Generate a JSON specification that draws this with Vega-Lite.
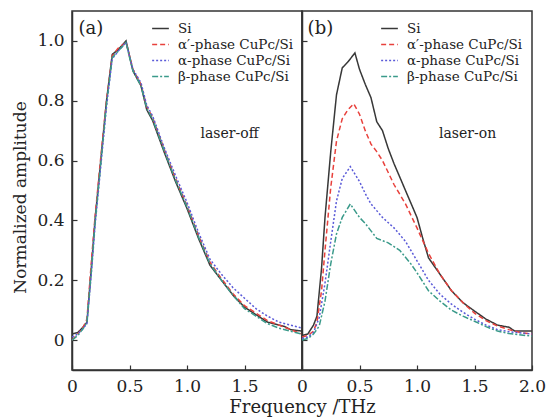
{
  "$schema": "https://vega.github.io/schema/vega-lite/v6.json",
  "background": "white",
  "padding": {"left": 11, "top": 10, "right": 5, "bottom": 5},
  "spacing": 0,
  "bounds": "flush",
  "datasets": {
    "curves": [
      {"p":"a","s":"Si","x":0,"y":0.02},{"p":"a","s":"Si","x":0.05,"y":0.025},{"p":"a","s":"Si","x":0.1,"y":0.045},{"p":"a","s":"Si","x":0.13,"y":0.06},{"p":"a","s":"Si","x":0.17,"y":0.25},{"p":"a","s":"Si","x":0.2,"y":0.4},{"p":"a","s":"Si","x":0.25,"y":0.6},{"p":"a","s":"Si","x":0.3,"y":0.8},{"p":"a","s":"Si","x":0.35,"y":0.955},{"p":"a","s":"Si","x":0.4,"y":0.97},{"p":"a","s":"Si","x":0.47,"y":1.0},{"p":"a","s":"Si","x":0.5,"y":0.95},{"p":"a","s":"Si","x":0.53,"y":0.9},{"p":"a","s":"Si","x":0.6,"y":0.85},{"p":"a","s":"Si","x":0.65,"y":0.77},{"p":"a","s":"Si","x":0.7,"y":0.735},{"p":"a","s":"Si","x":0.8,"y":0.63},{"p":"a","s":"Si","x":0.9,"y":0.53},{"p":"a","s":"Si","x":1.0,"y":0.44},{"p":"a","s":"Si","x":1.1,"y":0.34},{"p":"a","s":"Si","x":1.2,"y":0.25},{"p":"a","s":"Si","x":1.3,"y":0.2},{"p":"a","s":"Si","x":1.4,"y":0.15},{"p":"a","s":"Si","x":1.5,"y":0.11},{"p":"a","s":"Si","x":1.6,"y":0.085},{"p":"a","s":"Si","x":1.7,"y":0.06},{"p":"a","s":"Si","x":1.8,"y":0.05},{"p":"a","s":"Si","x":1.85,"y":0.045},{"p":"a","s":"Si","x":1.9,"y":0.035},{"p":"a","s":"Si","x":2.0,"y":0.03},
      {"p":"a","s":"α′-phase CuPc/Si","x":0,"y":0.0},{"p":"a","s":"α′-phase CuPc/Si","x":0.05,"y":0.02},{"p":"a","s":"α′-phase CuPc/Si","x":0.1,"y":0.045},{"p":"a","s":"α′-phase CuPc/Si","x":0.13,"y":0.07},{"p":"a","s":"α′-phase CuPc/Si","x":0.17,"y":0.27},{"p":"a","s":"α′-phase CuPc/Si","x":0.2,"y":0.41},{"p":"a","s":"α′-phase CuPc/Si","x":0.25,"y":0.61},{"p":"a","s":"α′-phase CuPc/Si","x":0.3,"y":0.8},{"p":"a","s":"α′-phase CuPc/Si","x":0.35,"y":0.95},{"p":"a","s":"α′-phase CuPc/Si","x":0.4,"y":0.975},{"p":"a","s":"α′-phase CuPc/Si","x":0.47,"y":0.995},{"p":"a","s":"α′-phase CuPc/Si","x":0.5,"y":0.95},{"p":"a","s":"α′-phase CuPc/Si","x":0.53,"y":0.905},{"p":"a","s":"α′-phase CuPc/Si","x":0.6,"y":0.855},{"p":"a","s":"α′-phase CuPc/Si","x":0.65,"y":0.78},{"p":"a","s":"α′-phase CuPc/Si","x":0.7,"y":0.745},{"p":"a","s":"α′-phase CuPc/Si","x":0.8,"y":0.64},{"p":"a","s":"α′-phase CuPc/Si","x":0.9,"y":0.54},{"p":"a","s":"α′-phase CuPc/Si","x":1.0,"y":0.45},{"p":"a","s":"α′-phase CuPc/Si","x":1.1,"y":0.35},{"p":"a","s":"α′-phase CuPc/Si","x":1.2,"y":0.26},{"p":"a","s":"α′-phase CuPc/Si","x":1.3,"y":0.205},{"p":"a","s":"α′-phase CuPc/Si","x":1.4,"y":0.155},{"p":"a","s":"α′-phase CuPc/Si","x":1.5,"y":0.115},{"p":"a","s":"α′-phase CuPc/Si","x":1.6,"y":0.09},{"p":"a","s":"α′-phase CuPc/Si","x":1.7,"y":0.065},{"p":"a","s":"α′-phase CuPc/Si","x":1.8,"y":0.05},{"p":"a","s":"α′-phase CuPc/Si","x":1.9,"y":0.035},{"p":"a","s":"α′-phase CuPc/Si","x":2.0,"y":0.02},
      {"p":"a","s":"α-phase CuPc/Si","x":0,"y":0.01},{"p":"a","s":"α-phase CuPc/Si","x":0.05,"y":0.02},{"p":"a","s":"α-phase CuPc/Si","x":0.1,"y":0.04},{"p":"a","s":"α-phase CuPc/Si","x":0.13,"y":0.055},{"p":"a","s":"α-phase CuPc/Si","x":0.17,"y":0.23},{"p":"a","s":"α-phase CuPc/Si","x":0.2,"y":0.38},{"p":"a","s":"α-phase CuPc/Si","x":0.25,"y":0.58},{"p":"a","s":"α-phase CuPc/Si","x":0.3,"y":0.78},{"p":"a","s":"α-phase CuPc/Si","x":0.35,"y":0.94},{"p":"a","s":"α-phase CuPc/Si","x":0.4,"y":0.965},{"p":"a","s":"α-phase CuPc/Si","x":0.47,"y":0.995},{"p":"a","s":"α-phase CuPc/Si","x":0.5,"y":0.95},{"p":"a","s":"α-phase CuPc/Si","x":0.53,"y":0.905},{"p":"a","s":"α-phase CuPc/Si","x":0.6,"y":0.86},{"p":"a","s":"α-phase CuPc/Si","x":0.65,"y":0.785},{"p":"a","s":"α-phase CuPc/Si","x":0.7,"y":0.75},{"p":"a","s":"α-phase CuPc/Si","x":0.8,"y":0.645},{"p":"a","s":"α-phase CuPc/Si","x":0.9,"y":0.55},{"p":"a","s":"α-phase CuPc/Si","x":1.0,"y":0.46},{"p":"a","s":"α-phase CuPc/Si","x":1.1,"y":0.36},{"p":"a","s":"α-phase CuPc/Si","x":1.2,"y":0.27},{"p":"a","s":"α-phase CuPc/Si","x":1.3,"y":0.22},{"p":"a","s":"α-phase CuPc/Si","x":1.4,"y":0.175},{"p":"a","s":"α-phase CuPc/Si","x":1.5,"y":0.14},{"p":"a","s":"α-phase CuPc/Si","x":1.6,"y":0.105},{"p":"a","s":"α-phase CuPc/Si","x":1.7,"y":0.08},{"p":"a","s":"α-phase CuPc/Si","x":1.8,"y":0.06},{"p":"a","s":"α-phase CuPc/Si","x":1.9,"y":0.05},{"p":"a","s":"α-phase CuPc/Si","x":2.0,"y":0.04},
      {"p":"a","s":"β-phase CuPc/Si","x":0,"y":0.0},{"p":"a","s":"β-phase CuPc/Si","x":0.05,"y":0.015},{"p":"a","s":"β-phase CuPc/Si","x":0.1,"y":0.04},{"p":"a","s":"β-phase CuPc/Si","x":0.13,"y":0.06},{"p":"a","s":"β-phase CuPc/Si","x":0.17,"y":0.24},{"p":"a","s":"β-phase CuPc/Si","x":0.2,"y":0.39},{"p":"a","s":"β-phase CuPc/Si","x":0.25,"y":0.59},{"p":"a","s":"β-phase CuPc/Si","x":0.3,"y":0.79},{"p":"a","s":"β-phase CuPc/Si","x":0.35,"y":0.945},{"p":"a","s":"β-phase CuPc/Si","x":0.4,"y":0.965},{"p":"a","s":"β-phase CuPc/Si","x":0.47,"y":0.995},{"p":"a","s":"β-phase CuPc/Si","x":0.5,"y":0.945},{"p":"a","s":"β-phase CuPc/Si","x":0.53,"y":0.9},{"p":"a","s":"β-phase CuPc/Si","x":0.6,"y":0.85},{"p":"a","s":"β-phase CuPc/Si","x":0.65,"y":0.775},{"p":"a","s":"β-phase CuPc/Si","x":0.7,"y":0.74},{"p":"a","s":"β-phase CuPc/Si","x":0.8,"y":0.635},{"p":"a","s":"β-phase CuPc/Si","x":0.9,"y":0.535},{"p":"a","s":"β-phase CuPc/Si","x":1.0,"y":0.445},{"p":"a","s":"β-phase CuPc/Si","x":1.1,"y":0.345},{"p":"a","s":"β-phase CuPc/Si","x":1.2,"y":0.255},{"p":"a","s":"β-phase CuPc/Si","x":1.3,"y":0.2},{"p":"a","s":"β-phase CuPc/Si","x":1.4,"y":0.15},{"p":"a","s":"β-phase CuPc/Si","x":1.5,"y":0.105},{"p":"a","s":"β-phase CuPc/Si","x":1.6,"y":0.08},{"p":"a","s":"β-phase CuPc/Si","x":1.7,"y":0.055},{"p":"a","s":"β-phase CuPc/Si","x":1.8,"y":0.04},{"p":"a","s":"β-phase CuPc/Si","x":1.9,"y":0.03},{"p":"a","s":"β-phase CuPc/Si","x":2.0,"y":0.02},
      {"p":"b","s":"Si","x":0,"y":0.015},{"p":"b","s":"Si","x":0.05,"y":0.02},{"p":"b","s":"Si","x":0.1,"y":0.05},{"p":"b","s":"Si","x":0.13,"y":0.08},{"p":"b","s":"Si","x":0.17,"y":0.24},{"p":"b","s":"Si","x":0.2,"y":0.41},{"p":"b","s":"Si","x":0.25,"y":0.63},{"p":"b","s":"Si","x":0.3,"y":0.82},{"p":"b","s":"Si","x":0.35,"y":0.91},{"p":"b","s":"Si","x":0.4,"y":0.93},{"p":"b","s":"Si","x":0.46,"y":0.96},{"p":"b","s":"Si","x":0.5,"y":0.905},{"p":"b","s":"Si","x":0.55,"y":0.855},{"p":"b","s":"Si","x":0.6,"y":0.81},{"p":"b","s":"Si","x":0.65,"y":0.73},{"p":"b","s":"Si","x":0.7,"y":0.7},{"p":"b","s":"Si","x":0.75,"y":0.64},{"p":"b","s":"Si","x":0.8,"y":0.59},{"p":"b","s":"Si","x":0.9,"y":0.5},{"p":"b","s":"Si","x":1.0,"y":0.41},{"p":"b","s":"Si","x":1.05,"y":0.34},{"p":"b","s":"Si","x":1.1,"y":0.275},{"p":"b","s":"Si","x":1.2,"y":0.22},{"p":"b","s":"Si","x":1.3,"y":0.165},{"p":"b","s":"Si","x":1.4,"y":0.125},{"p":"b","s":"Si","x":1.5,"y":0.097},{"p":"b","s":"Si","x":1.6,"y":0.07},{"p":"b","s":"Si","x":1.7,"y":0.05},{"p":"b","s":"Si","x":1.8,"y":0.043},{"p":"b","s":"Si","x":1.85,"y":0.03},{"p":"b","s":"Si","x":2.0,"y":0.03},
      {"p":"b","s":"α′-phase CuPc/Si","x":0,"y":0.01},{"p":"b","s":"α′-phase CuPc/Si","x":0.05,"y":0.015},{"p":"b","s":"α′-phase CuPc/Si","x":0.1,"y":0.03},{"p":"b","s":"α′-phase CuPc/Si","x":0.13,"y":0.06},{"p":"b","s":"α′-phase CuPc/Si","x":0.17,"y":0.165},{"p":"b","s":"α′-phase CuPc/Si","x":0.2,"y":0.3},{"p":"b","s":"α′-phase CuPc/Si","x":0.25,"y":0.51},{"p":"b","s":"α′-phase CuPc/Si","x":0.3,"y":0.665},{"p":"b","s":"α′-phase CuPc/Si","x":0.35,"y":0.74},{"p":"b","s":"α′-phase CuPc/Si","x":0.4,"y":0.77},{"p":"b","s":"α′-phase CuPc/Si","x":0.45,"y":0.79},{"p":"b","s":"α′-phase CuPc/Si","x":0.5,"y":0.755},{"p":"b","s":"α′-phase CuPc/Si","x":0.55,"y":0.7},{"p":"b","s":"α′-phase CuPc/Si","x":0.6,"y":0.655},{"p":"b","s":"α′-phase CuPc/Si","x":0.65,"y":0.63},{"p":"b","s":"α′-phase CuPc/Si","x":0.7,"y":0.6},{"p":"b","s":"α′-phase CuPc/Si","x":0.8,"y":0.52},{"p":"b","s":"α′-phase CuPc/Si","x":0.9,"y":0.455},{"p":"b","s":"α′-phase CuPc/Si","x":1.0,"y":0.375},{"p":"b","s":"α′-phase CuPc/Si","x":1.1,"y":0.29},{"p":"b","s":"α′-phase CuPc/Si","x":1.2,"y":0.22},{"p":"b","s":"α′-phase CuPc/Si","x":1.3,"y":0.165},{"p":"b","s":"α′-phase CuPc/Si","x":1.4,"y":0.125},{"p":"b","s":"α′-phase CuPc/Si","x":1.5,"y":0.09},{"p":"b","s":"α′-phase CuPc/Si","x":1.6,"y":0.065},{"p":"b","s":"α′-phase CuPc/Si","x":1.7,"y":0.047},{"p":"b","s":"α′-phase CuPc/Si","x":1.8,"y":0.035},{"p":"b","s":"α′-phase CuPc/Si","x":1.9,"y":0.025},{"p":"b","s":"α′-phase CuPc/Si","x":2.0,"y":0.02},
      {"p":"b","s":"α-phase CuPc/Si","x":0,"y":0.005},{"p":"b","s":"α-phase CuPc/Si","x":0.05,"y":0.01},{"p":"b","s":"α-phase CuPc/Si","x":0.1,"y":0.025},{"p":"b","s":"α-phase CuPc/Si","x":0.15,"y":0.075},{"p":"b","s":"α-phase CuPc/Si","x":0.2,"y":0.19},{"p":"b","s":"α-phase CuPc/Si","x":0.25,"y":0.33},{"p":"b","s":"α-phase CuPc/Si","x":0.3,"y":0.465},{"p":"b","s":"α-phase CuPc/Si","x":0.35,"y":0.54},{"p":"b","s":"α-phase CuPc/Si","x":0.42,"y":0.58},{"p":"b","s":"α-phase CuPc/Si","x":0.5,"y":0.53},{"p":"b","s":"α-phase CuPc/Si","x":0.55,"y":0.49},{"p":"b","s":"α-phase CuPc/Si","x":0.6,"y":0.455},{"p":"b","s":"α-phase CuPc/Si","x":0.7,"y":0.41},{"p":"b","s":"α-phase CuPc/Si","x":0.8,"y":0.375},{"p":"b","s":"α-phase CuPc/Si","x":0.9,"y":0.33},{"p":"b","s":"α-phase CuPc/Si","x":1.0,"y":0.265},{"p":"b","s":"α-phase CuPc/Si","x":1.1,"y":0.2},{"p":"b","s":"α-phase CuPc/Si","x":1.2,"y":0.153},{"p":"b","s":"α-phase CuPc/Si","x":1.3,"y":0.12},{"p":"b","s":"α-phase CuPc/Si","x":1.4,"y":0.093},{"p":"b","s":"α-phase CuPc/Si","x":1.5,"y":0.07},{"p":"b","s":"α-phase CuPc/Si","x":1.6,"y":0.05},{"p":"b","s":"α-phase CuPc/Si","x":1.7,"y":0.035},{"p":"b","s":"α-phase CuPc/Si","x":1.8,"y":0.028},{"p":"b","s":"α-phase CuPc/Si","x":2.0,"y":0.02},
      {"p":"b","s":"β-phase CuPc/Si","x":0,"y":0.0},{"p":"b","s":"β-phase CuPc/Si","x":0.05,"y":0.005},{"p":"b","s":"β-phase CuPc/Si","x":0.1,"y":0.02},{"p":"b","s":"β-phase CuPc/Si","x":0.15,"y":0.047},{"p":"b","s":"β-phase CuPc/Si","x":0.2,"y":0.13},{"p":"b","s":"β-phase CuPc/Si","x":0.25,"y":0.255},{"p":"b","s":"β-phase CuPc/Si","x":0.3,"y":0.355},{"p":"b","s":"β-phase CuPc/Si","x":0.35,"y":0.41},{"p":"b","s":"β-phase CuPc/Si","x":0.42,"y":0.455},{"p":"b","s":"β-phase CuPc/Si","x":0.5,"y":0.41},{"p":"b","s":"β-phase CuPc/Si","x":0.55,"y":0.39},{"p":"b","s":"β-phase CuPc/Si","x":0.6,"y":0.365},{"p":"b","s":"β-phase CuPc/Si","x":0.65,"y":0.34},{"p":"b","s":"β-phase CuPc/Si","x":0.75,"y":0.325},{"p":"b","s":"β-phase CuPc/Si","x":0.85,"y":0.3},{"p":"b","s":"β-phase CuPc/Si","x":0.95,"y":0.253},{"p":"b","s":"β-phase CuPc/Si","x":1.0,"y":0.225},{"p":"b","s":"β-phase CuPc/Si","x":1.1,"y":0.165},{"p":"b","s":"β-phase CuPc/Si","x":1.2,"y":0.13},{"p":"b","s":"β-phase CuPc/Si","x":1.3,"y":0.1},{"p":"b","s":"β-phase CuPc/Si","x":1.4,"y":0.08},{"p":"b","s":"β-phase CuPc/Si","x":1.5,"y":0.063},{"p":"b","s":"β-phase CuPc/Si","x":1.6,"y":0.045},{"p":"b","s":"β-phase CuPc/Si","x":1.7,"y":0.03},{"p":"b","s":"β-phase CuPc/Si","x":1.8,"y":0.022},{"p":"b","s":"β-phase CuPc/Si","x":2.0,"y":0.013}
    ],
    "labels": [
      {"p":"a","t":"(a)","x":0.165,"y":1.04,"k":"tag"},
      {"p":"a","t":"laser-off","x":1.37,"y":0.69,"k":"note"},
      {"p":"b","t":"(b)","x":0.16,"y":1.04,"k":"tag"},
      {"p":"b","t":"laser-on","x":1.44,"y":0.69,"k":"note"}
    ]
  },
  "hconcat": [
    {
      "width": 230,
      "height": 359,
      "layer": [
        {
          "data": {"name": "curves"},
          "transform": [{"filter": "datum.p == 'a'"}],
          "mark": {"type": "line", "strokeWidth": 1.5, "clip": true},
          "encoding": {
            "x": {"field": "x", "type": "quantitative", "scale": {"domain": [0, 2]},
                  "axis": {"values": [0, 0.5, 1, 1.5], "title": "Frequency /THz", "titleX": 230, "titleAlign": "center"}},
            "y": {"field": "y", "type": "quantitative", "scale": {"domain": [-0.1, 1.1]},
                  "axis": {"values": [0, 0.2, 0.4, 0.6, 0.8, 1.0], "title": "Normalized amplitude", "titleFontSize": 17, "titleY": 186}},
            "color": {"field": "s", "type": "nominal",
                      "scale": {"domain": ["Si", "α′-phase CuPc/Si", "α-phase CuPc/Si", "β-phase CuPc/Si"], "range": ["#383838", "#e8413c", "#5a5ad8", "#3a9a8a"]},
                      "legend": {"orient": "none", "legendX": 79, "legendY": 8, "title": null}},
            "strokeDash": {"field": "s", "type": "nominal",
                      "scale": {"domain": ["Si", "α′-phase CuPc/Si", "α-phase CuPc/Si", "β-phase CuPc/Si"], "range": [[1, 0], [5, 3], [2, 2], [6, 2, 2, 2]]},
                      "legend": {"orient": "none", "legendX": 79, "legendY": 8, "title": null}}
          }
        },
        {
          "data": {"name": "labels"},
          "transform": [{"filter": "datum.p == 'a'"}],
          "mark": {"type": "text", "font": "DejaVu Serif", "color": "#222", "align": "center", "baseline": "middle"},
          "encoding": {
            "x": {"field": "x", "type": "quantitative"},
            "y": {"field": "y", "type": "quantitative"},
            "text": {"field": "t"},
            "size": {"condition": {"test": "datum.k == 'tag'", "value": 18}, "value": 14}
          }
        }
      ]
    },
    {
      "width": 230,
      "height": 359,
      "layer": [
        {
          "data": {"name": "curves"},
          "transform": [{"filter": "datum.p == 'b'"}],
          "mark": {"type": "line", "strokeWidth": 1.5, "clip": true},
          "encoding": {
            "x": {"field": "x", "type": "quantitative", "scale": {"domain": [0, 2]},
                  "axis": {"values": [0, 0.5, 1, 1.5, 2], "title": null}},
            "y": {"field": "y", "type": "quantitative", "scale": {"domain": [-0.1, 1.1]},
                  "axis": {"values": [0, 0.2, 0.4, 0.6, 0.8, 1.0], "title": null, "labels": false}},
            "color": {"field": "s", "type": "nominal",
                      "scale": {"domain": ["Si", "α′-phase CuPc/Si", "α-phase CuPc/Si", "β-phase CuPc/Si"], "range": ["#383838", "#e8413c", "#5a5ad8", "#3a9a8a"]},
                      "legend": {"orient": "none", "legendX": 78, "legendY": 8, "title": null}},
            "strokeDash": {"field": "s", "type": "nominal",
                      "scale": {"domain": ["Si", "α′-phase CuPc/Si", "α-phase CuPc/Si", "β-phase CuPc/Si"], "range": [[1, 0], [5, 3], [2, 2], [6, 2, 2, 2]]},
                      "legend": {"orient": "none", "legendX": 78, "legendY": 8, "title": null}}
          }
        },
        {
          "data": {"name": "labels"},
          "transform": [{"filter": "datum.p == 'b'"}],
          "mark": {"type": "text", "font": "DejaVu Serif", "color": "#222", "align": "center", "baseline": "middle"},
          "encoding": {
            "x": {"field": "x", "type": "quantitative"},
            "y": {"field": "y", "type": "quantitative"},
            "text": {"field": "t"},
            "size": {"condition": {"test": "datum.k == 'tag'", "value": 18}, "value": 14}
          }
        }
      ]
    }
  ],
  "resolve": {
    "scale": {"color": "independent", "strokeDash": "independent"},
    "legend": {"color": "independent", "strokeDash": "independent"}
  },
  "config": {
    "view": {"stroke": "#333", "strokeWidth": 1.5},
    "axis": {
      "grid": false,
      "domainColor": "#333",
      "domainWidth": 1.5,
      "tickColor": "#333",
      "tickWidth": 1.2,
      "tickSize": -5,
      "labelPadding": 13,
      "labelFont": "DejaVu Serif",
      "labelFontSize": 17,
      "labelColor": "#222",
      "labelExpr": "datum.value == 0 ? '0' : format(datum.value, '.1f')",
      "titleFont": "DejaVu Serif",
      "titleFontSize": 18,
      "titleFontWeight": "normal",
      "titleColor": "#222"
    },
    "axisY": {"titlePadding": 7},
    "axisX": {"titlePadding": 4, "labelFlush": false},
    "legend": {
      "labelFont": "DejaVu Serif",
      "labelFontSize": 13.5,
      "labelColor": "#222",
      "symbolType": "stroke",
      "symbolSize": 280,
      "symbolStrokeWidth": 1.6,
      "rowPadding": 0,
      "labelOffset": 8,
      "padding": 0
    }
  }
}
